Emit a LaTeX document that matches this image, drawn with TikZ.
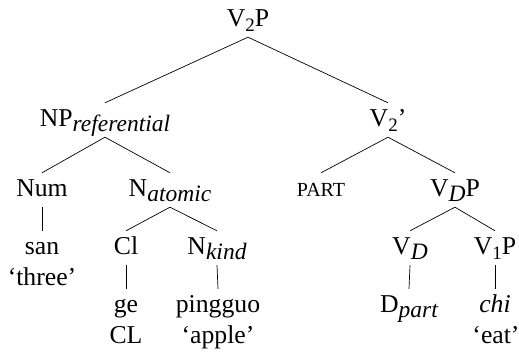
\documentclass[tikz,border=0pt]{standalone}
\usepackage{fontspec}
\setmainfont{LiberationSerif}[Extension=.ttf, UprightFont=*-Regular, ItalicFont=*-Italic, BoldFont=*-Bold, BoldItalicFont=*-BoldItalic, Ligatures=TeX]
\newcommand\lsub[1]{\raisebox{-5pt}{\fontsize{19}{19}\selectfont #1}}
\newcommand\isub[1]{\raisebox{-5pt}{\fontsize{23.5}{23.5}\selectfont\itshape #1}}
\newcommand\smallcapsfake[1]{{\fontsize{20}{20}\selectfont #1}}
\begin{document}
\begin{tikzpicture}[x=1pt,y=-1pt,
  lab/.style={anchor=base,inner xsep=0pt,inner ysep=5pt,text height=19pt,text depth=5pt,font=\rmfamily\fontsize{25.7}{31}\selectfont},
  edge/.style={line width=0.7pt}]
\useasboundingbox (0,0) rectangle (519,352);
\node[lab] (v2p) at (248,27) {V\lsub{2}P};
\node[lab] (np) at (105,127) {NP\isub{referential}};
\node[lab] (v2bar) at (388,127) {V\lsub{2}’};
\node[lab] (num) at (42,197) {Num};
\node[lab] (nat) at (170,197) {N\isub{atomic}};
\node[lab] (part) at (321,197) {\smallcapsfake{PART}};
\node[lab] (vdp) at (455,197) {V\isub{D}P};
\node[lab] (san) at (42,255) {san};
\node[lab] (three) at (42,286) {‘three’};
\node[lab] (cl) at (126,255) {Cl};
\node[lab] (nkind) at (217,255) {N\isub{kind}};
\node[lab] (vd) at (410,255) {V\isub{D}};
\node[lab] (v1p) at (495,255) {V\lsub{1}P};
\node[lab] (ge) at (126,313) {ge};
\node[lab] (ping) at (218,313) {pingguo};
\node[lab] (dpart) at (409,313) {D\isub{part}};
\node[lab] (chi) at (495,313) {\itshape chi};
\node[lab] (clg) at (126,343) {CL};
\node[lab] (apple) at (218,343) {‘apple’};
\node[lab] (eat) at (496,343) {‘eat’};
\draw[edge] (v2p.south) -- (np.north);
\draw[edge] (v2p.south) -- (v2bar.north);
\draw[edge] (np.south) -- (num.north);
\draw[edge] (np.south) -- (nat.north);
\draw[edge] (v2bar.south) -- (part.north);
\draw[edge] (v2bar.south) -- (vdp.north);
\draw[edge] (num.south) -- (san.north);
\draw[edge] (nat.south) -- (cl.north);
\draw[edge] (nat.south) -- (nkind.north);
\draw[edge] (vdp.south) -- (vd.north);
\draw[edge] (vdp.south) -- (v1p.north);
\draw[edge] (cl.south) -- (ge.north);
\draw[edge] (nkind.south) -- (ping.north);
\draw[edge] (vd.south) -- (dpart.north);
\draw[edge] (v1p.south) -- (chi.north);
\end{tikzpicture}
\end{document}
